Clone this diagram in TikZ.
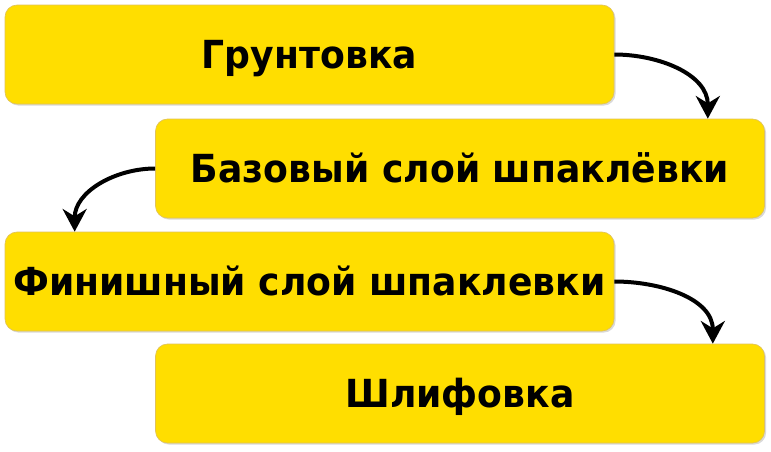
\documentclass[tikz,border=0pt]{standalone}
\usepackage{fontspec}
\setmainfont{DejaVu Sans}[FakeStretch=0.935]
\definecolor{stepyellow}{rgb}{1.0, 0.87, 0.0}
\definecolor{stepedge}{rgb}{0.88, 0.76, 0.35}
\usetikzlibrary{arrows.meta,shadows}

\begin{document}
\begin{tikzpicture}[x=0.75pt,y=-0.75pt,
	stage/.style={rectangle, rounded corners=9pt, fill=stepyellow, draw=stepedge, line width=0.5pt,
		minimum width=456.75pt, minimum height=74.25pt, inner sep=0pt,
		text height=21.2pt, text depth=-3.6pt,
		font=\fontsize{29}{32}\selectfont\bfseries, text=black,
		drop shadow={shadow xshift=1.2pt, shadow yshift=-1.2pt, opacity=0.25, fill=black!60}},
	flow/.style={line width=3pt, -{Stealth[length=17pt,width=18pt,inset=5.5pt]}}]
	\useasboundingbox (0,0) rectangle (771,451);
	% stages
	\node[stage] (primer) at (309.5,54.5) {Грунтовка};
	\node[stage] (base) at (460,168.5) {Базовый слой шпаклёвки};
	\node[stage] (finish) at (309.5,281.5) {Финишный слой шпаклевки};
	\node[stage] (sanding) at (460,393.5) {Шлифовка};
	% transitions
	\draw[flow] (primer.east) to[out=0,in=90] ([xshift=-42.75pt]base.north east);
	\draw[flow] (base.west) to[out=180,in=90] ([xshift=52.5pt]finish.north west);
	\draw[flow] (finish.east) to[out=0,in=90] ([xshift=-39pt]sanding.north east);
\end{tikzpicture}
\end{document}
